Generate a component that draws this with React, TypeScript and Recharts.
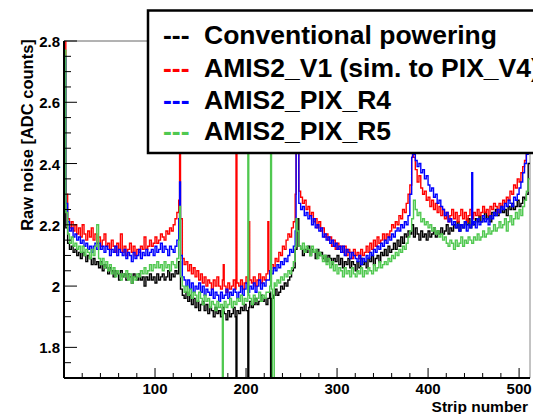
import { LineChart, Line, XAxis, YAxis, ReferenceLine } from 'recharts';

// raw noise per strip, one value every 2 strips (strip 0, 2, 4, ... 510)
const conventional = [
  2.35, 2.19, 2.14, 2.12, 2.13, 2.11, 2.12, 2.10, 2.11, 2.09, 2.11, 2.10, 2.08, 2.10, 2.09, 2.07,
  2.09, 2.07, 2.08, 2.06, 2.08, 2.05, 2.07, 2.06, 2.04, 2.06, 2.05, 2.03, 2.05, 2.04, 2.02, 2.05,
  2.03, 2.04, 2.02, 2.04, 2.03, 2.01, 2.04, 2.03, 2.02, 2.04, 2.02, 2.03, 2.00, 2.03, 2.02, 2.04,
  2.02, 2.03, 2.01, 2.04, 2.02, 2.03, 2.04, 2.02, 2.03, 2.05, 2.02, 2.04, 2.03, 2.05, 2.04, 2.08,
  1.99, 1.97, 1.96, 1.98, 1.95, 1.97, 1.94, 1.96, 1.93, 1.95, 1.92, 1.94, 1.95, 1.92, 1.94, 1.91,
  1.93, 1.92, 1.90, 1.93, 1.91, 1.92, 1.90, 1.93, 1.91, 1.89, 1.92, 1.90, 1.91, 1.93, 1.90, 1.92,
  1.91, 1.93, 1.92, 1.94, 1.92, 1.93, 1.95, 1.93, 1.94, 1.96, 1.94, 1.95, 1.97, 1.95, 1.96, 1.94,
  1.96, 1.98, 1.96, 1.97, 1.99, 1.97, 1.98, 2.00, 1.99, 2.01, 2.00, 2.02, 2.03, 2.05, 2.06, 2.12,
  2.22, 2.13, 2.12, 2.10, 2.12, 2.11, 2.13, 2.10, 2.12, 2.11, 2.09, 2.12, 2.10, 2.11, 2.09, 2.10,
  2.08, 2.10, 2.09, 2.07, 2.09, 2.08, 2.10, 2.07, 2.09, 2.06, 2.08, 2.07, 2.09, 2.06, 2.08, 2.07,
  2.05, 2.08, 2.06, 2.09, 2.07, 2.08, 2.06, 2.09, 2.08, 2.10, 2.07, 2.09, 2.10, 2.08, 2.11, 2.10,
  2.12, 2.10, 2.13, 2.11, 2.12, 2.14, 2.12, 2.15, 2.13, 2.16, 2.14, 2.17, 2.16, 2.18, 2.17, 2.20,
  2.16, 2.19, 2.17, 2.15, 2.18, 2.16, 2.17, 2.15, 2.18, 2.16, 2.17, 2.19, 2.16, 2.18, 2.17, 2.19,
  2.17, 2.18, 2.20, 2.17, 2.19, 2.18, 2.20, 2.19, 2.21, 2.18, 2.20, 2.19, 2.21, 2.20, 2.22, 2.19,
  2.21, 2.20, 2.22, 2.21, 2.23, 2.21, 2.22, 2.24, 2.22, 2.23, 2.21, 2.24, 2.23, 2.25, 2.23, 2.24,
  2.26, 2.24, 2.25, 2.23, 2.26, 2.25, 2.27, 2.25, 2.26, 2.28, 2.26, 2.27, 2.29, 2.28, 2.30, 2.40,
];

const amis2V1 = [
  2.85, 2.30, 2.22, 2.19, 2.21, 2.18, 2.20, 2.17, 2.19, 2.16, 2.20, 2.17, 2.15, 2.18, 2.16, 2.19,
  2.15, 2.17, 2.14, 2.16, 2.13, 2.15, 2.17, 2.13, 2.14, 2.12, 2.15, 2.13, 2.11, 2.14, 2.12, 2.17,
  2.11, 2.13, 2.10, 2.12, 2.14, 2.11, 2.13, 2.10, 2.12, 2.11, 2.13, 2.12, 2.16, 2.12, 2.13, 2.15,
  2.13, 2.14, 2.16, 2.14, 2.15, 2.17, 2.16, 2.15, 2.18, 2.17, 2.19, 2.18, 2.20, 2.22, 2.24, 2.28,
  2.22, 2.09, 2.07, 2.08, 2.05, 2.07, 2.04, 2.06, 2.03, 2.05, 2.02, 2.04, 2.01, 2.03, 2.00, 2.02,
  2.01, 1.99, 2.02, 2.00, 2.03, 2.00, 1.99, 2.02, 2.00, 1.98, 2.01, 1.99, 2.00, 2.02, 1.99, 2.01,
  2.00, 2.02, 1.99, 2.01, 2.03, 2.00, 2.02, 2.01, 2.03, 2.00, 2.02, 2.04, 2.01, 2.03, 2.02, 2.04,
  2.05, 2.04, 2.07, 2.06, 2.09, 2.08, 2.11, 2.10, 2.13, 2.12, 2.15, 2.17, 2.16, 2.19, 2.21, 2.30,
  2.45, 2.31, 2.29, 2.27, 2.28, 2.25, 2.26, 2.23, 2.24, 2.21, 2.22, 2.19, 2.21, 2.18, 2.19, 2.16,
  2.17, 2.15, 2.16, 2.13, 2.15, 2.12, 2.14, 2.12, 2.13, 2.11, 2.13, 2.10, 2.12, 2.11, 2.09, 2.12,
  2.10, 2.11, 2.09, 2.12, 2.10, 2.11, 2.13, 2.11, 2.14, 2.12, 2.15, 2.13, 2.16, 2.14, 2.15, 2.17,
  2.15, 2.17, 2.16, 2.18, 2.20, 2.19, 2.21, 2.20, 2.23, 2.22, 2.25, 2.24, 2.27, 2.30, 2.33, 2.42,
  2.42, 2.38, 2.34, 2.36, 2.32, 2.30, 2.31, 2.28, 2.29, 2.26, 2.28, 2.25, 2.27, 2.24, 2.26, 2.23,
  2.25, 2.22, 2.24, 2.21, 2.23, 2.25, 2.22, 2.24, 2.21, 2.23, 2.25, 2.22, 2.24, 2.21, 2.23, 2.25,
  2.22, 2.24, 2.23, 2.25, 2.23, 2.24, 2.26, 2.24, 2.25, 2.23, 2.26, 2.25, 2.27, 2.26, 2.24, 2.27,
  2.26, 2.28, 2.27, 2.29, 2.28, 2.31, 2.30, 2.33, 2.32, 2.35, 2.34, 2.37, 2.39, 2.41, 2.45, 2.85,
];

const pixR4 = [
  2.75, 2.27, 2.21, 2.18, 2.19, 2.16, 2.17, 2.15, 2.16, 2.14, 2.15, 2.13, 2.14, 2.12, 2.13, 2.11,
  2.13, 2.14, 2.12, 2.14, 2.12, 2.13, 2.11, 2.13, 2.12, 2.10, 2.12, 2.11, 2.13, 2.10, 2.12, 2.11,
  2.10, 2.12, 2.09, 2.11, 2.10, 2.08, 2.11, 2.09, 2.10, 2.12, 2.09, 2.11, 2.10, 2.12, 2.10, 2.11,
  2.12, 2.10, 2.13, 2.11, 2.12, 2.14, 2.11, 2.13, 2.12, 2.10, 2.13, 2.12, 2.11, 2.13, 2.15, 2.22,
  2.10, 2.03, 2.02, 2.00, 2.02, 1.99, 2.01, 1.98, 2.00, 1.99, 2.01, 1.98, 2.00, 1.97, 1.99, 1.98,
  1.97, 1.99, 1.96, 1.98, 1.97, 1.95, 1.98, 1.96, 1.97, 1.99, 1.96, 1.98, 1.97, 1.99, 1.98, 1.96,
  1.98, 2.00, 1.97, 1.99, 2.01, 1.98, 2.00, 1.99, 2.01, 1.98, 2.00, 2.02, 1.99, 2.01, 2.00, 2.02,
  2.02, 2.05, 2.04, 2.06, 2.05, 2.07, 2.06, 2.08, 2.07, 2.09, 2.08, 2.10, 2.12, 2.11, 2.13, 2.18,
  2.50, 2.27, 2.25, 2.26, 2.23, 2.24, 2.22, 2.23, 2.20, 2.22, 2.19, 2.20, 2.18, 2.19, 2.16, 2.17,
  2.15, 2.16, 2.14, 2.15, 2.13, 2.14, 2.12, 2.13, 2.11, 2.13, 2.10, 2.12, 2.11, 2.09, 2.11, 2.10,
  2.09, 2.08, 2.10, 2.07, 2.09, 2.08, 2.10, 2.09, 2.11, 2.10, 2.12, 2.11, 2.13, 2.12, 2.14, 2.13,
  2.15, 2.14, 2.16, 2.15, 2.17, 2.16, 2.18, 2.19, 2.18, 2.20, 2.19, 2.21, 2.20, 2.23, 2.30, 2.42,
  2.43, 2.41, 2.39, 2.40, 2.37, 2.38, 2.35, 2.36, 2.33, 2.31, 2.32, 2.29, 2.30, 2.27, 2.28, 2.26,
  2.25, 2.23, 2.24, 2.21, 2.22, 2.20, 2.21, 2.19, 2.20, 2.18, 2.20, 2.19, 2.21, 2.18, 2.20, 2.19,
  2.20, 2.21, 2.19, 2.22, 2.20, 2.21, 2.23, 2.21, 2.22, 2.20, 2.23, 2.22, 2.24, 2.23, 2.25, 2.24,
  2.26, 2.25, 2.27, 2.26, 2.28, 2.27, 2.26, 2.29, 2.28, 2.30, 2.32, 2.34, 2.37, 2.40, 2.43, 2.85,
];

const pixR5 = [
  2.77, 2.24, 2.17, 2.14, 2.16, 2.13, 2.14, 2.12, 2.13, 2.11, 2.13, 2.10, 2.12, 2.11, 2.09, 2.12,
  2.10, 2.13, 2.20, 2.09, 2.07, 2.09, 2.06, 2.08, 2.05, 2.07, 2.04, 2.06, 2.03, 2.05, 2.04, 2.02,
  2.04, 2.03, 2.05, 2.02, 2.04, 2.01, 2.03, 2.02, 2.04, 2.03, 2.05, 2.04, 2.06, 2.04, 2.05, 2.07,
  2.05, 2.07, 2.06, 2.08, 2.06, 2.07, 2.05, 2.08, 2.06, 2.07, 2.05, 2.08, 2.07, 2.06, 2.09, 2.15,
  2.03, 2.00, 1.98, 2.00, 1.97, 1.99, 1.96, 1.98, 1.97, 1.95, 1.98, 1.96, 1.94, 1.97, 1.95, 1.96,
  1.93, 1.95, 1.94, 1.92, 1.95, 1.93, 1.94, 1.92, 1.95, 1.93, 1.94, 1.96, 1.93, 1.95, 1.94, 1.96,
  1.95, 1.97, 1.94, 1.96, 1.95, 1.97, 1.96, 1.94, 1.97, 1.95, 1.96, 1.98, 1.95, 1.97, 1.96, 1.98,
  1.98, 2.00, 1.99, 2.01, 2.00, 2.02, 2.01, 2.03, 2.02, 2.04, 2.03, 2.05, 2.04, 2.06, 2.08, 2.13,
  2.18, 2.13, 2.12, 2.14, 2.11, 2.13, 2.12, 2.10, 2.13, 2.11, 2.12, 2.09, 2.11, 2.10, 2.08, 2.10,
  2.07, 2.09, 2.06, 2.08, 2.05, 2.07, 2.04, 2.06, 2.05, 2.03, 2.06, 2.04, 2.05, 2.03, 2.06, 2.04,
  2.03, 2.05, 2.04, 2.06, 2.03, 2.05, 2.04, 2.06, 2.05, 2.04, 2.07, 2.05, 2.06, 2.08, 2.06, 2.07,
  2.08, 2.07, 2.09, 2.08, 2.10, 2.09, 2.11, 2.10, 2.12, 2.11, 2.13, 2.12, 2.14, 2.16, 2.18, 2.22,
  2.28, 2.25, 2.23, 2.24, 2.21, 2.22, 2.20, 2.21, 2.19, 2.20, 2.18, 2.19, 2.17, 2.18, 2.16, 2.17,
  2.15, 2.16, 2.14, 2.13, 2.15, 2.14, 2.12, 2.15, 2.13, 2.14, 2.16, 2.13, 2.15, 2.14, 2.16, 2.15,
  2.14, 2.16, 2.15, 2.17, 2.15, 2.16, 2.18, 2.16, 2.17, 2.19, 2.17, 2.18, 2.20, 2.18, 2.19, 2.21,
  2.19, 2.20, 2.22, 2.18, 2.21, 2.23, 2.20, 2.22, 2.24, 2.22, 2.25, 2.23, 2.26, 2.28, 2.31, 2.35,
];

// single noisy / dead strips: [strip, value]
const conventionalSpikes: [number, number][] = [[189, 1.5], [202, 1.5], [227, 1.5]];
const amis2V1Spikes: [number, number][] = [
  [127, 2.62], [175, 2.07], [189, 2.9], [203, 2.21], [224, 2.21], [255, 2.75], [383, 2.6],
];
const pixR4Spikes: [number, number][] = [[127, 2.34], [255, 2.55], [383, 2.45], [448, 2.37]];
const pixR5Spikes: [number, number][] = [
  [127, 2.26], [174, 1.5], [202, 2.9], [227, 2.9], [229, 1.5], [230, 1.5], [255, 2.22],
];

const xTicks = [20, 40, 60, 80, 100, 120, 140, 160, 180, 200, 220, 240, 260, 280, 300, 320, 340, 360, 380, 400, 420, 440, 460, 480, 500];
const xMajor = [100, 200, 300, 400, 500];
const yTicks = [1.75, 1.8, 1.85, 1.9, 1.95, 2, 2.05, 2.1, 2.15, 2.2, 2.25, 2.3, 2.35, 2.4, 2.45, 2.5, 2.55, 2.6, 2.65, 2.7, 2.75, 2.8];
const yMajor = [1.8, 2, 2.2, 2.4, 2.6, 2.8];

const FONT = '"Liberation Sans", Arial, Helvetica, sans-serif';

function buildSeries(base: number[], spikes: [number, number][]) {
  const m = new Map<number, number>();
  base.forEach((v, i) => m.set(i * 2, v));
  spikes.forEach(([s, v]) => {
    m.set(s, v);
    if (!m.has(s + 1)) m.set(s + 1, base[Math.floor(s / 2)]);
  });
  m.set(512, base[base.length - 1]);
  return [...m.keys()].sort((a, b) => a - b).map((x) => ({ x, y: m.get(x) }));
}

const series = [
  { name: 'Conventional powering', color: '#000000', data: buildSeries(conventional, conventionalSpikes) },
  { name: 'AMIS2_V1 (sim. to PIX_V4)', color: '#ff0000', data: buildSeries(amis2V1, amis2V1Spikes) },
  { name: 'AMIS2_PIX_R4', color: '#0000ff', data: buildSeries(pixR4, pixR4Spikes) },
  { name: 'AMIS2_PIX_R5', color: '#50c850', data: buildSeries(pixR5, pixR5Spikes) },
];

// eslint-disable-next-line @typescript-eslint/no-explicit-any
const XTick = (props: any) => {
  const { x, y, payload } = props;
  const major = xMajor.includes(payload.value);
  return (
    <g>
      <line x1={x} x2={x} y1={y} y2={y - (major ? 10 : 5)} stroke="#000" strokeWidth={1} />
      {major && (
        <text x={x} y={y + 16} textAnchor="middle" fontFamily={FONT} fontWeight="bold" fontSize={15} fill="#000">
          {payload.value}
        </text>
      )}
    </g>
  );
};

// eslint-disable-next-line @typescript-eslint/no-explicit-any
const YTick = (props: any) => {
  const { x, y, payload } = props;
  const major = yMajor.some((v) => Math.abs(v - payload.value) < 1e-6);
  return (
    <g>
      <line x1={x} x2={x + (major ? 13 : 7)} y1={y} y2={y} stroke="#000" strokeWidth={1} />
      {major && (
        <text x={x - 4} y={y + 6} textAnchor="end" fontFamily={FONT} fontWeight="bold" fontSize={15} fill="#000">
          {String(payload.value)}
        </text>
      )}
    </g>
  );
};

const legendBaselines = [35.5, 68.5, 101, 131.5];

export default function App() {
  return (
    <div style={{ position: 'relative', width: 533, height: 406, overflow: 'hidden', background: '#fff' }}>
      <LineChart width={533} height={398} margin={{ top: 33, right: 11, bottom: 0, left: 0 }}>
        <XAxis
          type="number"
          dataKey="x"
          domain={[0, 512]}
          allowDataOverflow
          ticks={xTicks}
          interval={0}
          tickSize={0}
          tickMargin={0}
          tickLine={false}
          tick={<XTick />}
          height={28}
          axisLine={{ stroke: '#000', strokeWidth: 2 }}
        />
        <YAxis
          type="number"
          domain={[1.7, 2.8]}
          allowDataOverflow
          ticks={yTicks}
          interval={0}
          tickSize={0}
          tickMargin={0}
          tickLine={false}
          tick={<YTick />}
          width={56}
          axisLine={{ stroke: '#000', strokeWidth: 2 }}
        />
        <ReferenceLine y={2.8} stroke="#666" strokeWidth={1} />
        <ReferenceLine x={512} stroke="#888" strokeWidth={1} />
        {series.map((s) => (
          <Line
            key={s.name}
            data={s.data}
            dataKey="y"
            name={s.name}
            type="stepAfter"
            stroke={s.color}
            strokeWidth={1.4}
            dot={false}
            activeDot={false}
            isAnimationActive={false}
          />
        ))}
      </LineChart>
      <svg width={533} height={406} style={{ position: 'absolute', left: 0, top: 0 }}>
        <text
          transform="translate(19,127) rotate(-90)"
          textAnchor="middle"
          dominantBaseline="central"
          fontFamily={FONT}
          fontWeight="bold"
          fontSize={16.5}
          fill="#000"
        >
          Raw noise [ADC counts]
        </text>
        <text x={520} y={403.5} textAnchor="end" fontFamily={FONT} fontWeight="bold" fontSize={15.5} fill="#000">
          Strip number
        </text>
        <rect x={140} y={2.5} width={420} height={142.5} fill="#fff" stroke="#000" strokeWidth={2.5} />
        {series.map((s, i) => (
          <g key={s.name} fontFamily={FONT} fontWeight="bold" fontSize={26.5}>
            <text x={155} y={legendBaselines[i]} fill={s.color}>---</text>
            <text x={196} y={legendBaselines[i]} fill="#000">{s.name}</text>
          </g>
        ))}
      </svg>
    </div>
  );
}
